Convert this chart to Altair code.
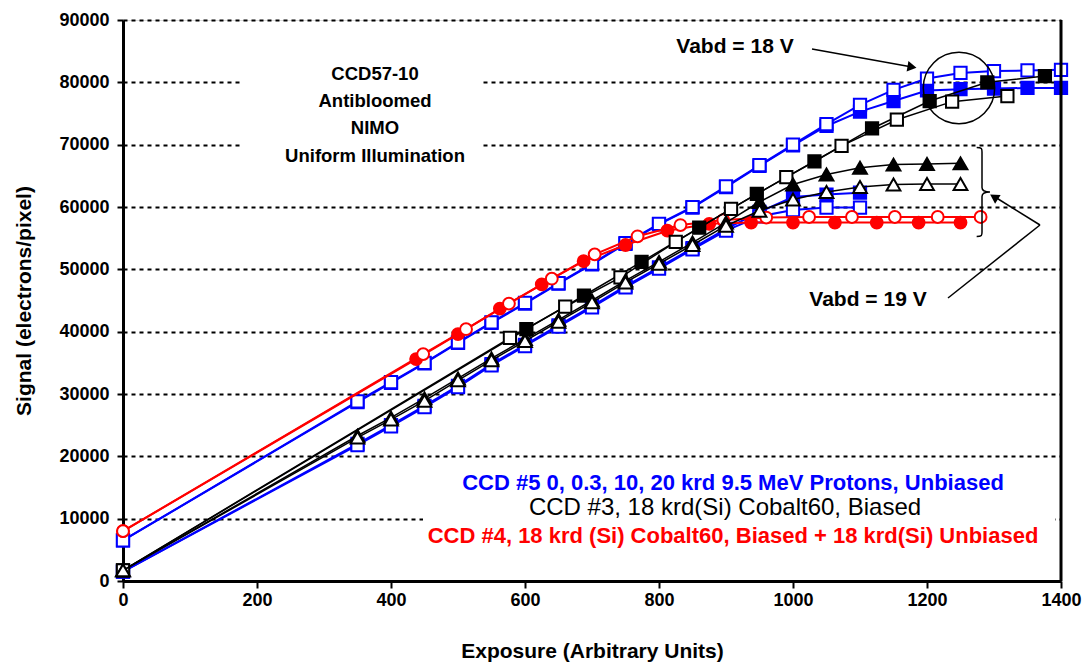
import altair as alt
import pandas as pd

# ---------------- data ----------------
# CCD #5 (blue squares), upper pair
b5_hi_x = [0, 350, 400, 450, 500, 550, 600, 650, 700, 750, 800, 850, 900, 950,
           1000, 1050, 1100, 1150, 1200, 1250, 1300, 1350, 1400]
b5_open_hi_y = [6500, 28800, 31900, 35000, 38300, 41500, 44600, 47800, 50900, 54200,
                57300, 60000, 63300, 66700, 70000, 73300, 76400, 78800, 80600, 81500,
                81800, 81900, 82000]
b5_fill_hi_y = [6500, 28700, 31800, 34900, 38200, 41400, 44500, 47700, 50800, 54100,
                57200, 59900, 63200, 66600, 69900, 73000, 75300, 77000, 78700, 78900,
                79000, 79100, 79100]
# CCD #5 (blue squares), lower pair
b5_lo_x = [0, 350, 400, 450, 500, 550, 600, 650, 700, 750, 800, 850, 900, 950,
           1000, 1050, 1100]
b5_fill_lo_y = [1500, 22000, 25000, 28100, 31300, 34800, 37900, 41000, 44100, 47300,
                50300, 53400, 56500, 59200, 61600, 62000, 62300]
b5_open_lo_y = [1500, 21800, 24800, 27900, 31100, 34600, 37700, 40800, 43900, 47100,
                50100, 53200, 56200, 58500, 59500, 59900, 59900]
# CCD #3 (black)
b3_fsq_x = [0, 602, 688, 774, 860, 946, 1032, 1118, 1204, 1290, 1376]
b3_fsq_y = [1700, 40400, 45800, 51200, 56700, 62100, 67300, 72600, 77000, 80000, 81000]
b3_osq_x = [0, 577.5, 660, 742.5, 825, 907.5, 990, 1072.5, 1155, 1237.5, 1320]
b3_osq_y = [1700, 39000, 44000, 48700, 54400, 59700, 64800, 69800, 74000, 76900, 77800]
b3_tri_x = [0, 350, 400, 450, 500, 550, 600, 650, 700, 750, 800, 850, 900, 950,
            1000, 1050, 1100, 1150, 1200, 1250]
b3_ftri_y = [1700, 23300, 26200, 29300, 32500, 35700, 38800, 41900, 45000, 48200,
             51200, 54300, 57500, 60800, 63600, 65200, 66300, 66800, 66900, 67000]
b3_otri_y = [1700, 23000, 25900, 28900, 32200, 35400, 38500, 41600, 44700, 47900,
             50900, 53900, 57000, 59400, 61200, 62400, 63200, 63600, 63700, 63700]
# CCD #4 (red circles)
b4_fc_x = [0, 437.5, 500, 562.5, 625, 687.5, 750, 812.5, 875, 937.5, 1000, 1062.5,
           1125, 1187.5, 1250]
b4_fc_y = [8000, 35600, 39600, 43700, 47600, 51300, 53900, 56200, 57300, 57500, 57500,
           57500, 57500, 57500, 57500]
b4_oc_x = [0, 448, 512, 576, 640, 704, 768, 832, 896, 960, 1024, 1088, 1152, 1216, 1280]
b4_oc_y = [8000, 36400, 40400, 44500, 48500, 52400, 55300, 57100, 57900, 58300, 58400,
           58400, 58400, 58400, 58400]

x_ticks = [0, 200, 400, 600, 800, 1000, 1200, 1400]
y_ticks = [0, 10000, 20000, 30000, 40000, 50000, 60000, 70000, 80000, 90000]

info_lines = ["CCD57-10", "Antibloomed", "NIMO", "Uniform Illumination"]
legend_lines = ["CCD #5 0, 0.3, 10, 20 krd 9.5 MeV Protons, Unbiased",
                "CCD #3, 18 krd(Si) Cobalt60, Biased",
                "CCD #4, 18 krd (Si) Cobalt60, Biased + 18 krd(Si) Unbiased"]

# ---------------- styling ----------------
BLUE = "#0000ff"
RED = "#ff0000"
BLACK = "#000000"
FONT = "Liberation Sans"

series = [
    # (x, y, color, shape, filled, line width, size)
    (b5_hi_x, b5_fill_hi_y, BLUE, "square", True, 2, 150),
    (b5_hi_x, b5_open_hi_y, BLUE, "square", False, 2, 150),
    (b5_lo_x, b5_fill_lo_y, BLUE, "square", True, 2, 150),
    (b5_lo_x, b5_open_lo_y, BLUE, "square", False, 2, 150),
    (b4_fc_x, b4_fc_y, RED, "circle", True, 2, 140),
    (b4_oc_x, b4_oc_y, RED, "circle", False, 2, 140),
    (b3_fsq_x, b3_fsq_y, BLACK, "square", True, 1.5, 150),
    (b3_osq_x, b3_osq_y, BLACK, "square", False, 1.5, 150),
    (b3_tri_x, b3_ftri_y, BLACK, "triangle-up", True, 1.5, 190),
    (b3_tri_x, b3_otri_y, BLACK, "triangle-up", False, 1.5, 190),
]

xscale = alt.Scale(domain=[0, 1400], nice=False)
yscale = alt.Scale(domain=[0, 90000], nice=False)

common_axis = dict(
    format="d", domainWidth=3, domainColor=BLACK, tickColor=BLACK, tickWidth=2,
    labelFont=FONT, labelFontWeight="bold", labelFontSize=18, labelColor=BLACK,
    labelFlush=False,
    titleFont=FONT, titleFontWeight="bold", titleFontSize=21, titleColor=BLACK,
)
x_axis = alt.Axis(values=x_ticks, title="Exposure (Arbitrary Units)", grid=False,
                  tickSize=7, labelPadding=3, titlePadding=31, **common_axis)
y_axis = alt.Axis(values=y_ticks, title="Signal (electrons/pixel)", grid=True,
                  gridColor=BLACK, gridDash=[4, 4], gridWidth=2, tickSize=6,
                  labelPadding=8, titlePadding=24, **common_axis)

layers = []
for xs, ys, color, shape, filled, lw, size in series:
    df = pd.DataFrame({"x": xs, "y": ys})
    base = alt.Chart(df).encode(
        x=alt.X("x:Q", scale=xscale, axis=x_axis),
        y=alt.Y("y:Q", scale=yscale, axis=y_axis),
    )
    layers.append(base.mark_line(color=color, strokeWidth=lw))
    layers.append(base.mark_point(shape=shape, size=size, filled=True,
                                  fill=color if filled else "white",
                                  stroke=color, strokeWidth=2, opacity=1))

one = pd.DataFrame({"a": [0]})

# white boxes behind text blocks
info_box = alt.Chart(one).mark_rect(fill="white").encode(
    x=alt.value(118), x2=alt.value(360), y=alt.value(36), y2=alt.value(150))
legend_box = alt.Chart(one).mark_rect(fill="white").encode(
    x=alt.value(300), x2=alt.value(932), y=alt.value(446), y2=alt.value(530))

info_text = []
for line, py in zip(info_lines, [54, 81, 108, 136]):
    info_text.append(alt.Chart(one).mark_text(
        text=line, font=FONT, fontWeight="bold", fontSize=18.5, align="center",
        baseline="middle", color=BLACK).encode(x=alt.value(252), y=alt.value(py)))

legend_text = []
for line, py, col, wt, fs, px in zip(legend_lines, [463, 488, 516], [BLUE, BLACK, RED],
                                     ["bold", "normal", "bold"], [22, 24, 22],
                                     [610, 602, 610]):
    legend_text.append(alt.Chart(one).mark_text(
        text=line, font=FONT, fontWeight=wt, fontSize=fs, align="center",
        baseline="middle", color=col).encode(x=alt.value(px), y=alt.value(py)))

v18 = alt.Chart(one).mark_text(text="Vabd = 18 V", font=FONT, fontWeight="bold",
                               fontSize=21, align="center", baseline="middle",
                               color=BLACK).encode(x=alt.value(612), y=alt.value(27))
v19 = alt.Chart(one).mark_text(text="Vabd = 19 V", font=FONT, fontWeight="bold",
                               fontSize=21, align="center", baseline="middle",
                               color=BLACK).encode(x=alt.value(745), y=alt.value(280))

arrow1 = alt.Chart(one).mark_rule(color=BLACK, strokeWidth=1.5).encode(
    x=alt.value(689), y=alt.value(29), x2=alt.value(789), y2=alt.value(47))
head1 = alt.Chart(one).mark_point(shape="triangle-right", size=110, filled=True,
                                  color=BLACK, opacity=1, angle=10).encode(
    x=alt.value(789), y=alt.value(47))
arrow2a = alt.Chart(one).mark_rule(color=BLACK, strokeWidth=1.5).encode(
    x=alt.value(825), y=alt.value(278), x2=alt.value(917), y2=alt.value(205))
arrow2b = alt.Chart(one).mark_rule(color=BLACK, strokeWidth=1.5).encode(
    x=alt.value(917), y=alt.value(205), x2=alt.value(872), y2=alt.value(177))
head2 = alt.Chart(one).mark_point(shape="triangle-right", size=110, filled=True,
                                  color=BLACK, opacity=1, angle=212).encode(
    x=alt.value(871), y=alt.value(177))

ellipse = alt.Chart(one).mark_point(shape="circle", size=5100, filled=False,
                                    color=BLACK, strokeWidth=1.5, opacity=1).encode(
    x=alt.value(836), y=alt.value(68))

brace_path = ("M -0.12 -1 C 0 -1 0 -0.97 0 -0.9 L 0 -0.1 C 0 -0.03 0.06 0 0.18 0 "
              "C 0.06 0 0 0.03 0 0.1 L 0 0.9 C 0 0.97 0 1 -0.12 1")
brace = alt.Chart(one).mark_point(shape=brace_path, size=7900, filled=False,
                                  color=BLACK, strokeWidth=1.5, opacity=1).encode(
    x=alt.value(859), y=alt.value(172))

right_border = alt.Chart(one).mark_rule(color=BLACK, strokeWidth=3).encode(
    x=alt.value(938), y=alt.value(0), y2=alt.value(561))

chart = alt.layer(
    info_box, legend_box, *layers, *info_text, *legend_text, v18, v19,
    arrow1, head1, arrow2a, arrow2b, head2, ellipse, brace, right_border
).properties(
    width=938, height=561,
    autosize=alt.AutoSizeParams(type="none"),
    padding={"left": 123, "top": 20, "right": 27, "bottom": 83},
).configure_view(
    stroke=BLACK, strokeWidth=1.5
).configure(background="white")

chart.save("out.html", embed_options={"renderer": "svg", "actions": False})
